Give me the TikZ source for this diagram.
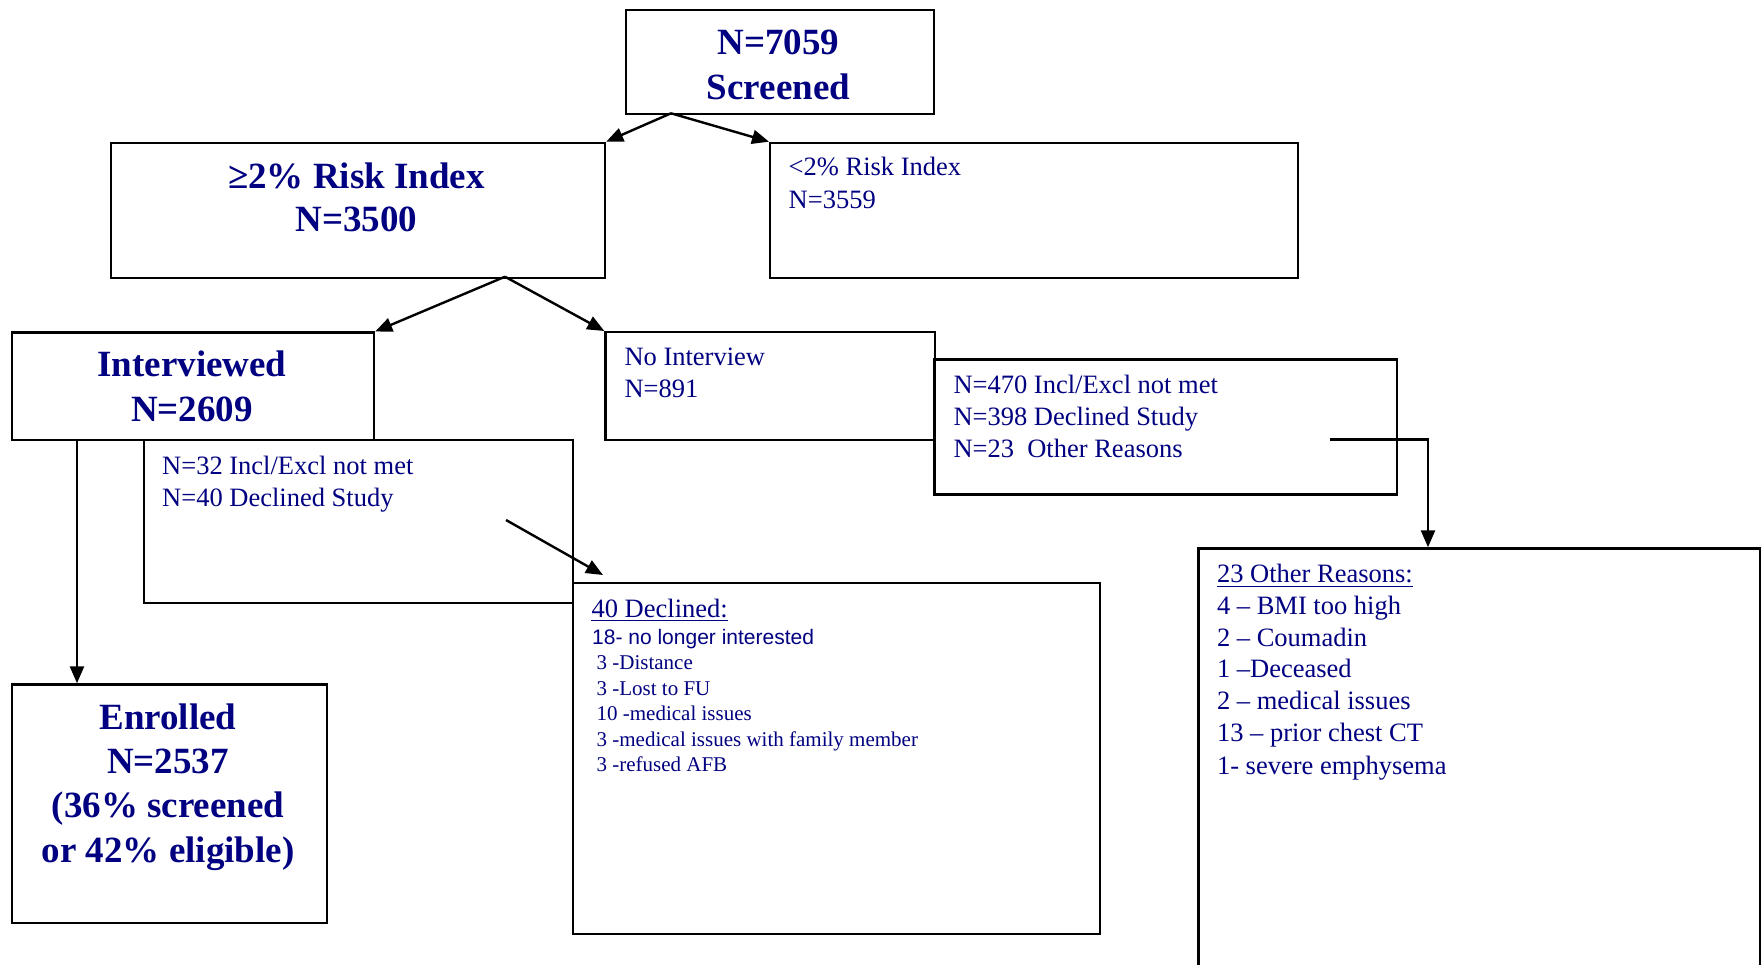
\documentclass[tikz,border=0pt]{standalone}
\usepackage{fontspec}
\setmainfont{Liberation Serif}
\newfontfamily\arialfont{Liberation Sans}
\usetikzlibrary{arrows.meta}
\definecolor{navytext}{RGB}{0,0,128}
\tikzset{
  box/.style={draw=black, line width=2.2pt, inner sep=0pt, anchor=north west},
  big/.style={text=navytext, inner sep=0pt, anchor=base, font=\fontsize{37}{44}\selectfont\bfseries},
  reg/.style={text=navytext, inner sep=0pt, anchor=base west, font=\fontsize{26.5}{32}\selectfont},
  small/.style={text=navytext, inner sep=0pt, anchor=base west, font=\fontsize{21}{25}\selectfont},
  conn/.style={draw=black, line width=2.4pt, -{Triangle[length=17pt,width=14pt]}},
  uline/.style={draw=navytext, line width=1.3pt}
}
\begin{document}
\begin{tikzpicture}[x=1pt,y=-1pt]
\useasboundingbox (0,0) rectangle (1763,965);
\clip (0,0) rectangle (1763,965);

% boxes
\node[box, minimum width=308pt, minimum height=104pt] (screen) at (625,9.3) {};
\node[box, minimum width=494pt, minimum height=135pt] (hi) at (110,141.7) {};
\node[box, minimum width=528pt, minimum height=135pt] (lo) at (769,141.7) {};
\node[box, minimum width=362pt, minimum height=107.5pt] (intv) at (11,331.5) {};
\node[box, minimum width=329.7pt, minimum height=108pt] (noint) at (604.3,331) {};
\node[box, minimum width=428.5pt, minimum height=162.7pt] (excla) at (143,439) {};
\node[box, minimum width=462.4pt, minimum height=135pt] (exclb) at (933.4,358.3) {};
\node[box, minimum width=527.2pt, minimum height=351.3pt] (decl) at (571.8,581.7) {};
\node[box, minimum width=561.3pt, minimum height=452.7pt] (other) at (1197.4,547.3) {};
\node[box, minimum width=314.7pt, minimum height=238.4pt] (enr) at (11,683.3) {};

% texts
\node[big] (t1a) at (778.5,54.3) {N=7059};
\node[big] (t1b) at (778.5,99.3) {Screened};
\node[big] (t2a) at (356.5,188.3) {≥2\% Risk Index};
\node[big] (t2b) at (356.5,231.7) {N=3500};
\node[reg] (t3a) at (788.5,176) {<2\% Risk Index};
\node[reg] (t3b) at (788.5,208.3) {N=3559};
\node[big] (t4a) at (192,376.7) {Interviewed};
\node[big] (t4b) at (192,421) {N=2609};
\node[reg] (t5a) at (624.3,365.7) {No Interview};
\node[reg] (t5b) at (624.3,397.7) {N=891};
\node[reg] (t6a) at (162,474.3) {N=32 Incl/Excl not met};
\node[reg] (t6b) at (162,506) {N=40 Declined Study};
\node[reg] (t7a) at (953.3,393.3) {N=470 Incl/Excl not met};
\node[reg] (t7b) at (953.3,425) {N=398 Declined Study};
\node[reg] (t7c) at (953.3,457.3) {N=23\ \ Other Reasons};

\node[reg] (t8) at (591.4,617.3) {40 Declined:};
\draw[uline] ([yshift=-3.5pt]t8.base west) -- ([yshift=-3.5pt]t8.base east);
\node[small, font=\fontsize{21}{25}\selectfont\arialfont] (t8a) at (592,644) {18- no longer interested};
\node[small] (t8b) at (596.4,669) {3 -Distance};
\node[small] (t8c) at (596.4,695) {3 -Lost to FU};
\node[small] (t8d) at (596.4,720.7) {10 -medical issues};
\node[small] (t8e) at (596.4,746) {3 -medical issues with family member};
\node[small] (t8f) at (596.4,771.7) {3 -refused AFB};

\node[reg] (t9) at (1216.8,582.7) {23 Other Reasons:};
\draw[uline] ([yshift=-3.5pt]t9.base west) -- ([yshift=-3.5pt]t9.base east);
\node[reg] (t9a) at (1216.8,614) {4 – BMI too high};
\node[reg] (t9b) at (1216.8,646) {2 – Coumadin};
\node[reg] (t9c) at (1216.8,677.3) {1 –Deceased};
\node[reg] (t9d) at (1216.8,709.3) {2 – medical issues};
\node[reg] (t9e) at (1216.8,741) {13 – prior chest CT};
\node[reg] (t9f) at (1216.8,774) {1- severe emphysema};

\node[big] (t10a) at (168,729) {Enrolled};
\node[big] (t10b) at (168,773.3) {N=2537};
\node[big] (t10c) at (168,817.7) {(36\% screened};
\node[big] (t10d) at (168,862.7) {or 42\% eligible)};

% connectors
\coordinate (s0) at (671,113.3);
\draw[conn] (s0) -- (hi.north east);
\draw[conn] (s0) -- (lo.north west);
\coordinate (h0) at (505,276.7);
\draw[conn] (h0) -- (intv.north east);
\draw[conn] (h0) -- (noint.north west);
\coordinate (e0) at (77,439);
\draw[conn] (e0) -- (e0 |- enr.north);
\coordinate (d0) at (506,520);
\coordinate (d1) at (603,575);
\draw[conn] (d0) -- (d1);
\coordinate (o0) at (1330,439.3);
\coordinate (o1) at (1428,439.3);
\draw[conn] (o0) -- (o1) -- (o1 |- other.north);
\end{tikzpicture}
\end{document}
